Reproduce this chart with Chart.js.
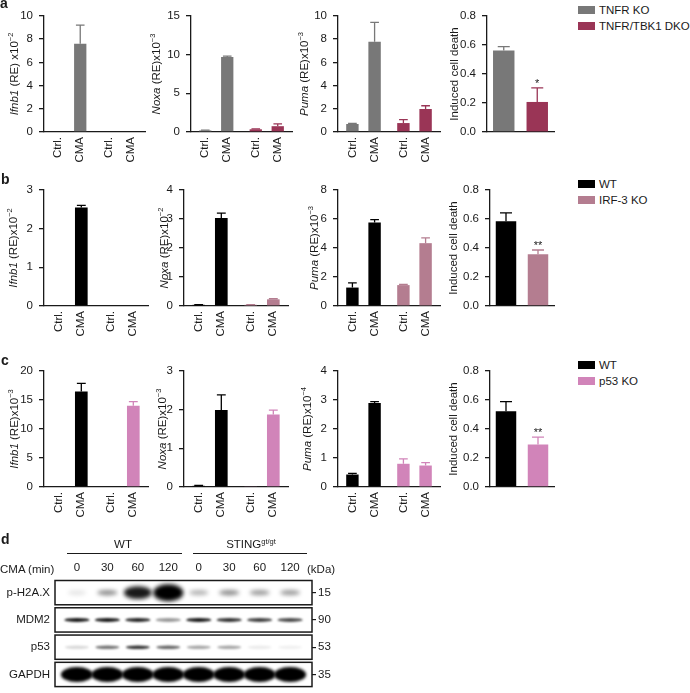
<!DOCTYPE html>
<html>
<head>
<meta charset="utf-8">
<script src="https://cdn.jsdelivr.net/npm/chart.js@4.4.1/dist/chart.umd.min.js"></script>
<style>
  html, body { margin: 0; padding: 0; background: #fff; }
  #stage { position: relative; width: 690px; height: 693px; overflow: hidden;
           font-family: 'Liberation Sans', Arial, sans-serif; color: #1a1a1a; }
  .panel { position: absolute; }
  .txt sup { font-size: 7.5px; vertical-align: 4px; line-height: 0; }
  .letter { position: absolute; font-weight: bold; font-size: 14px; line-height: 1; }
  .legend { position: absolute; font-size: 11.5px; }
  .legend .row { height: 16px; display: flex; align-items: center; }
  .legend .sw { width: 17px; height: 8px; margin-right: 4px; }
  .txt { position: absolute; font-size: 11.5px; white-space: nowrap; line-height: 1; transform: translateY(-50%); }
  .rule { position: absolute; height: 0; border-top: 1.5px solid #1a1a1a; }
</style>
</head>
<body>
<div id="stage"></div>
<script>
// ---------- data ----------
// bar order in the 4-bar panels: [Ctrl. grp1, CMA grp1, Ctrl. grp2, CMA grp2]

// a: TNFR KO vs TNFR/TBK1 DKO
const groupsA = ['TNFR KO', 'TNFR/TBK1 DKO'];
const colorsA = ['#787878', '#9a3556'];
const aIfnb1 = [0, 7.6, 0, 0];
const aIfnb1Err = [0, 1.6, 0, 0];
const aNoxa = [0.2, 9.7, 0.35, 0.75];
const aNoxaErr = [0.03, 0.1, 0.05, 0.3];
const aPuma = [0.69, 7.77, 0.77, 1.98];
const aPumaErr = [0.06, 1.68, 0.3, 0.28];
const aDeath = [0.562, 0.207];
const aDeathErr = [0.026, 0.097];
const aDeathSig = ['', '*'];

// b: WT vs IRF-3 KO
const groupsB = ['WT', 'IRF-3 KO'];
const colorsB = ['#000000', '#b47d90'];
const bIfnb1 = [0, 2.545, 0, 0];
const bIfnb1Err = [0, 0.055, 0, 0];
const bNoxa = [0.04, 3.03, 0.04, 0.23];
const bNoxaErr = [0.01, 0.17, 0.01, 0.02];
const bPuma = [1.27, 5.75, 1.44, 4.33];
const bPumaErr = [0.33, 0.2, 0.05, 0.37];
const bDeath = [0.584, 0.357];
const bDeathErr = [0.057, 0.029];
const bDeathSig = ['', '**'];

// c: WT vs p53 KO
const groupsC = ['WT', 'p53 KO'];
const colorsC = ['#000000', '#d184b9'];
const cIfnb1 = [0, 16.47, 0, 14.0];
const cIfnb1Err = [0, 1.38, 0, 0.7];
const cNoxa = [0.03, 1.99, 0.02, 1.876];
const cNoxaErr = [0.01, 0.39, 0, 0.11];
const cPuma = [0.43, 2.89, 0.8, 0.74];
const cPumaErr = [0.04, 0.05, 0.17, 0.1];
const cDeath = [0.522, 0.293];
const cDeathErr = [0.066, 0.051];
const cDeathSig = ['', '**'];

// d: western blot, relative band intensity per lane
const blotLanes = ['0', '30', '60', '120', '0', '30', '60', '120'];
const blotRows = ['p-H2A.X', 'MDM2', 'p53', 'GAPDH'];
const blotKda = ['15', '90', '53', '35'];
const bandH2AX = [0.1, 0.45, 0.9, 1.0, 0.3, 0.45, 0.4, 0.4];
const bandMDM2 = [0.9, 0.9, 0.85, 0.4, 0.9, 0.8, 0.75, 0.7];
const bandP53 = [0.15, 0.55, 0.8, 0.6, 0.35, 0.35, 0.08, 0.06];
const bandGAPDH = [1, 1, 1, 1, 1, 1, 1, 1];

// ---------- setup ----------
const INK = '#1a1a1a';
const FONT = "'Liberation Sans', Arial, sans-serif";
Chart.defaults.font.family = FONT;
Chart.defaults.font.size = 11.5;
Chart.defaults.color = INK;
const stage = document.getElementById('stage');

// error bars, significance marks, rotated Ctrl./CMA labels and the y title
const barExtras = {
  id: 'barExtras',
  defaults: { labels: false, title: null, titleX: 0 },
  afterDatasetsDraw(chart, args, opts) {
    const ctx = chart.ctx, y = chart.scales.y, area = chart.chartArea;
    chart.data.datasets.forEach((ds, di) => {
      if (!ds.errors) return;
      chart.getDatasetMeta(di).data.forEach((bar, i) => {
        const color = Array.isArray(ds.backgroundColor) ? ds.backgroundColor[i] : ds.backgroundColor;
        const err = ds.errors[i];
        const top = y.getPixelForValue(ds.data[i] + err);
        ctx.save();
        if (err > 0) {
          const cap = Math.min(bar.width * 0.7, 12) / 2;
          ctx.strokeStyle = color;
          ctx.lineWidth = 1.3;
          ctx.beginPath();
          ctx.moveTo(bar.x, bar.y);
          ctx.lineTo(bar.x, top);
          ctx.moveTo(bar.x - cap, top);
          ctx.lineTo(bar.x + cap, top);
          ctx.stroke();
        }
        if (ds.sig && ds.sig[i]) {
          ctx.fillStyle = INK;
          ctx.font = '11px ' + FONT;
          ctx.textAlign = 'center';
          ctx.textBaseline = 'alphabetic';
          ctx.fillText(ds.sig[i], bar.x, top - 1);
        }
        if (opts.labels) {
          ctx.fillStyle = INK;
          ctx.font = '11.5px ' + FONT;
          ctx.translate(bar.x, area.bottom + 5);
          ctx.rotate(-Math.PI / 2);
          ctx.textAlign = 'right';
          ctx.textBaseline = 'middle';
          ctx.fillText(ds.label, 0, 0);
        }
        ctx.restore();
      });
    });

    // rotated y-axis title built from parts (italic gene name, superscript exponent)
    if (opts.title) {
      const fontOf = p => (p.italic ? 'italic ' : '') + (p.sup ? '7.5px ' : '11.5px ') + FONT;
      let total = 0;
      opts.title.forEach(p => { ctx.font = fontOf(p); total += ctx.measureText(p.t).width; });
      ctx.save();
      ctx.fillStyle = INK;
      ctx.translate(opts.titleX, Math.round((area.top + area.bottom) / 2));
      ctx.rotate(-Math.PI / 2);
      ctx.textAlign = 'left';
      ctx.textBaseline = 'middle';
      let cx = -total / 2;
      opts.title.forEach(p => {
        ctx.font = fontOf(p);
        ctx.fillText(p.t, cx, p.sup ? -4 : 0);
        cx += ctx.measureText(p.t).width;
      });
      ctx.restore();
    }
  }
};
Chart.register(barExtras);

const PAD_L = 50, PAD_T = 8, PAD_R = 6, PAD_B = 40;

function makeChart(box, labels, datasets, yMax, yStep, fmt, showLabels, title) {
  const w = box.end - box.x + PAD_L + PAD_R;
  const h = box.bottom - box.top + PAD_T + PAD_B;
  const wrap = document.createElement('div');
  wrap.className = 'panel';
  wrap.style.left = (box.x - PAD_L) + 'px';
  wrap.style.top = (box.top - PAD_T) + 'px';
  const canvas = document.createElement('canvas');
  canvas.width = w;
  canvas.height = h;
  canvas.style.width = w + 'px';
  canvas.style.height = h + 'px';
  wrap.appendChild(canvas);
  stage.appendChild(wrap);

  return new Chart(canvas, {
    type: 'bar',
    data: { labels: labels, datasets: datasets },
    options: {
      responsive: false,
      animation: false,
      devicePixelRatio: 1,
      layout: { padding: { top: PAD_T, right: PAD_R, left: 0, bottom: 0 } },
      plugins: {
        legend: { display: false },
        tooltip: { enabled: false },
        barExtras: { labels: showLabels, title: title.parts, titleX: title.x - (box.x - PAD_L) }
      },
      scales: {
        x: {
          grid: { display: false },
          border: { display: true, color: INK, width: 1.3 },
          ticks: { display: false },
          afterFit(s) { s.height = PAD_B; }
        },
        y: {
          min: 0,
          max: yMax,
          ticks: { stepSize: yStep, padding: 6, callback: fmt },
          grid: { display: true, drawOnChartArea: false, drawTicks: true, tickLength: 5, color: INK, lineWidth: 1.3 },
          border: { display: true, color: INK, width: 1.3 },
          afterFit(s) { s.width = PAD_L; }
        }
      }
    }
  });
}

function quadPanel(box, groups, colors, values, errors, yMax, yStep, title) {
  const datasets = ['Ctrl.', 'CMA'].map((lab, k) => ({
    label: lab,
    data: [values[k], values[k + 2]],
    errors: [errors[k], errors[k + 2]],
    backgroundColor: colors,
    categoryPercentage: 0.87,
    barPercentage: 0.56
  }));
  return makeChart(box, groups, datasets, yMax, yStep, v => v, true, title);
}

function deathPanel(box, groups, colors, values, errors, sig, titleX) {
  const datasets = [{
    label: 'Induced cell death',
    data: values,
    errors: errors,
    sig: sig,
    backgroundColor: colors,
    categoryPercentage: 1,
    barPercentage: 0.64
  }];
  return makeChart(box, groups, datasets, 0.8, 0.2, v => v.toFixed(1), false,
    { x: titleX, parts: [{ t: 'Induced cell death' }] });
}

// y title parts: gene name in italics, exponent as superscript
const geneTitle = (gene, mid, exp, x) =>
  ({ x: x, parts: [{ t: gene, italic: true }, { t: mid }, { t: exp, sup: true }] });

function addHtml(cls, html, x, y) {
  const el = document.createElement('div');
  el.className = cls;
  el.innerHTML = html;
  el.style.left = x + 'px';
  el.style.top = y + 'px';
  stage.appendChild(el);
  return el;
}

function addLegend(groups, colors, x, y) {
  return addHtml('legend', groups.map((g, i) =>
    '<div class="row"><div class="sw" style="background:' + colors[i] + '"></div>' + g + '</div>'
  ).join(''), x, y);
}

// ---------- row a ----------
quadPanel({ x: 44, end: 145, top: 11, bottom: 132 }, groupsA, colorsA, aIfnb1, aIfnb1Err, 10, 2,
  geneTitle('Ifnb1', ' (RE) x10', '−2', 15));
quadPanel({ x: 191, end: 292, top: 11, bottom: 132 }, groupsA, colorsA, aNoxa, aNoxaErr, 15, 5,
  geneTitle('Noxa', ' (RE)x10', '−3', 157));
quadPanel({ x: 338, end: 440, top: 11, bottom: 132 }, groupsA, colorsA, aPuma, aPumaErr, 10, 2,
  geneTitle('Puma', ' (RE)x10', '−3', 305));
deathPanel({ x: 487, end: 554, top: 11, bottom: 132 }, groupsA, colorsA, aDeath, aDeathErr, aDeathSig, 455);
addLegend(groupsA, colorsA, 578, 2);

// ---------- row b ----------
quadPanel({ x: 44, end: 148, top: 185, bottom: 306 }, groupsB, colorsB, bIfnb1, bIfnb1Err, 3, 1,
  geneTitle('Ifnb1', ' (RE)x10', '−2', 14));
quadPanel({ x: 184, end: 288, top: 185, bottom: 306 }, groupsB, colorsB, bNoxa, bNoxaErr, 4, 1,
  geneTitle('Noxa', ' (RE)x10', '−2', 165));
quadPanel({ x: 338, end: 440, top: 185, bottom: 306 }, groupsB, colorsB, bPuma, bPumaErr, 8, 2,
  geneTitle('Puma', ' (RE)x10', '−3', 315));
deathPanel({ x: 490, end: 554, top: 185, bottom: 306 }, groupsB, colorsB, bDeath, bDeathErr, bDeathSig, 454);
addLegend(groupsB, colorsB, 578, 176);

// ---------- row c ----------
quadPanel({ x: 44, end: 148, top: 366, bottom: 487 }, groupsC, colorsC, cIfnb1, cIfnb1Err, 20, 5,
  geneTitle('Ifnb1', ' (RE)x10', '−3', 15));
quadPanel({ x: 184, end: 288, top: 366, bottom: 487 }, groupsC, colorsC, cNoxa, cNoxaErr, 3, 1,
  geneTitle('Noxa', ' (RE)x10', '−3', 163));
quadPanel({ x: 338, end: 440, top: 366, bottom: 487 }, groupsC, colorsC, cPuma, cPumaErr, 4, 1,
  geneTitle('Puma', ' (RE)x10', '−4', 308));
deathPanel({ x: 490, end: 554, top: 366, bottom: 487 }, groupsC, colorsC, cDeath, cDeathErr, cDeathSig, 454);
addLegend(groupsC, colorsC, 578, 357);

// panel letters
addHtml('letter', 'a', 0, -4);
addHtml('letter', 'b', 1, 172);
addHtml('letter', 'c', 1, 353);
addHtml('letter', 'd', 1, 532);

// ---------- d: western blot ----------
// band shape per row: base height, extra height with intensity, width, blur
const BAND_STYLE = [
  { h: 5, grow: 12, w: 18, wGrow: 12, blur: 2.2 },
  { h: 4, grow: 0, w: 25, wGrow: 0, blur: 1.1 },
  { h: 3.5, grow: 0, w: 24, wGrow: 0, blur: 1.1 },
  { h: 15, grow: 0, w: 32, wGrow: 0, blur: 1.6 }
];

const blotBands = {
  id: 'blotBands',
  beforeDatasetsDraw(chart) {
    const ctx = chart.ctx, a = chart.chartArea;
    const rowH = (a.bottom - a.top) / blotRows.length;
    chart.data.datasets.forEach((ds, r) => {
      const st = BAND_STYLE[r];
      const y0 = a.top + r * rowH + 1.5, y1 = a.top + (r + 1) * rowH - 1.5;
      ctx.save();
      ctx.beginPath();
      ctx.rect(a.left, y0, a.right - a.left, y1 - y0);
      ctx.clip();
      chart.getDatasetMeta(r).data.forEach((pt, i) => {
        const v = ds.intensity[i];
        const h = st.h + st.grow * Math.pow(v, 4);
        const w = st.w + st.wGrow * v * v;
        ctx.filter = 'blur(' + st.blur + 'px)';
        ctx.fillStyle = 'rgba(0,0,0,' + v + ')';
        ctx.beginPath();
        ctx.ellipse(pt.x, pt.y, w / 2, h / 2, 0, 0, Math.PI * 2);
        ctx.fill();
      });
      ctx.restore();
      ctx.save();
      ctx.strokeStyle = INK;
      ctx.lineWidth = 1.5;
      ctx.strokeRect(a.left, y0, a.right - a.left, y1 - y0);
      ctx.restore();
    });
  }
};

(function drawBlot() {
  const wrap = document.createElement('div');
  wrap.className = 'panel';
  wrap.style.left = '0px';
  wrap.style.top = '550px';
  const canvas = document.createElement('canvas');
  canvas.width = 345;
  canvas.height = 150;
  wrap.appendChild(canvas);
  stage.appendChild(wrap);

  const datasets = [bandH2AX, bandMDM2, bandP53, bandGAPDH].map((vals, r) => ({
    label: blotRows[r],
    data: blotLanes.map((_, i) => ({ x: i, y: blotRows[r] })),
    intensity: vals,
    pointRadius: 0
  }));

  new Chart(canvas, {
    type: 'scatter',
    data: { datasets: datasets },
    options: {
      responsive: false,
      animation: false,
      devicePixelRatio: 1,
      layout: { padding: { top: 0, right: 0, left: 0, bottom: 3 } },
      plugins: { legend: { display: false }, tooltip: { enabled: false } },
      scales: {
        x: {
          type: 'linear',
          position: 'top',
          min: -0.72,
          max: 7.72,
          afterBuildTicks(s) { s.ticks = blotLanes.map((_, i) => ({ value: i })); },
          ticks: { autoSkip: false, maxRotation: 0, padding: 4, callback: (v, i) => blotLanes[i] },
          grid: { display: false, drawTicks: false },
          border: { display: false },
          afterFit(s) { s.height = 29; }
        },
        y: {
          type: 'category',
          labels: blotRows,
          offset: true,
          position: 'left',
          ticks: { padding: 5 },
          grid: { display: false, drawTicks: false },
          border: { display: false },
          afterFit(s) { s.width = 55; }
        },
        y2: {
          type: 'category',
          labels: blotKda,
          offset: true,
          position: 'right',
          ticks: { padding: 2 },
          grid: { display: true, drawOnChartArea: false, drawTicks: true, tickLength: 4, color: INK, lineWidth: 1.2 },
          border: { display: false },
          afterFit(s) { s.width = 33; }
        }
      }
    },
    plugins: [blotBands]
  });
})();

// blot header text
addHtml('txt', 'CMA (min)', 0, 570);
addHtml('txt', '(kDa)', 307, 570);
const wt = addHtml('txt', 'WT', 123, 545);
wt.style.transform = 'translate(-50%, -50%)';
const sting = addHtml('txt', 'STING<sup>gt/gt</sup>', 251, 545);
sting.style.transform = 'translate(-50%, -50%)';
const r1 = addHtml('rule', '', 67, 553); r1.style.width = '115px';
const r2 = addHtml('rule', '', 193, 553); r2.style.width = '114px';
</script>
</body>
</html>
